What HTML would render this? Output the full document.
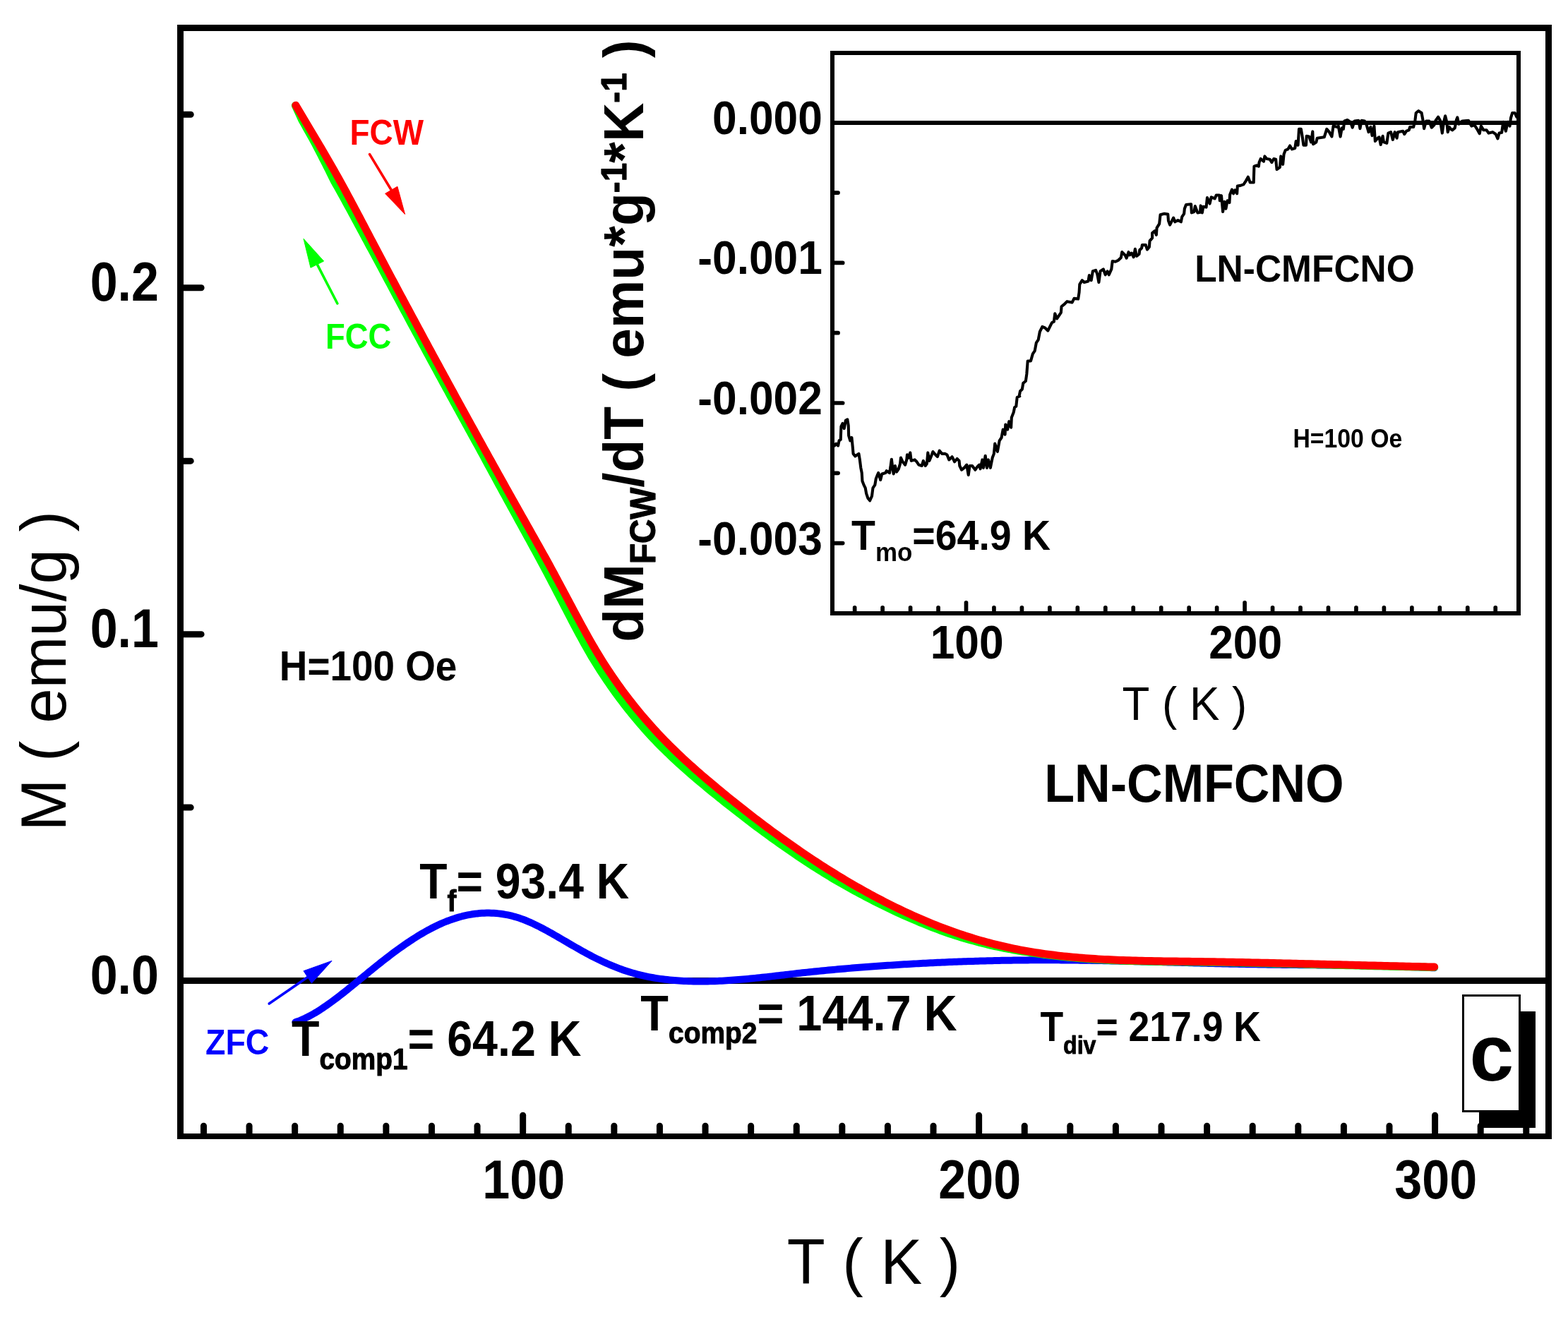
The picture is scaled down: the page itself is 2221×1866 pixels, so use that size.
<!DOCTYPE html>
<html lang="en"><head><meta charset="utf-8"><title>M(T) ZFC/FCC/FCW - LN-CMFCNO</title>
<style>html,body{margin:0;padding:0;background:#fff;overflow:hidden}svg{display:block}text{font-family:"Liberation Sans",Arial,Helvetica,sans-serif;font-kerning:none;white-space:pre}</style></head><body>
<svg width="2221" height="1866" viewBox="0 0 2221 1866" role="img" aria-label="Magnetization M versus temperature T for LN-CMFCNO at H=100 Oe (ZFC, FCC, FCW) with inset dM/dT">
<rect x="0" y="0" width="2221" height="1866" fill="#fff"/>
<g shape-rendering="crispEdges">
<rect x="2095" y="1433" width="80" height="165" fill="#000"/>
<rect x="2072.5" y="1410.5" width="80" height="164" fill="#fff" stroke="#000" stroke-width="3"/>
</g>
<g fill="none" stroke-linecap="round" stroke-linejoin="round">
<rect x="255" y="1385" width="1938" height="9" fill="#000" stroke="none" shape-rendering="crispEdges"/>
<path d="M418.5 1448.25 L421.82 1447.08 L425.13 1445.8 L428.45 1444.4 L431.48 1443.03 L434.49 1441.57 L437.51 1440.03 L440.53 1438.42 L443.5 1436.75 L446.3 1435.12 L449.1 1433.42 L451.9 1431.68 L454.7 1429.88 L457.48 1428.04 L460.18 1426.21 L462.87 1424.34 L465.57 1422.44 L468.27 1420.5 L470.96 1418.52 L473.65 1416.53 L476.34 1414.5 L479.03 1412.45 L481.72 1410.38 L484.4 1408.28 L487.05 1406.2 L489.66 1404.13 L492.26 1402.04 L494.87 1399.94 L497.48 1397.83 L500.08 1395.71 L502.68 1393.59 L505.28 1391.46 L507.88 1389.33 L510.47 1387.19 L513.07 1385.05 L515.68 1382.91 L518.31 1380.75 L520.93 1378.6 L523.56 1376.45 L526.18 1374.31 L528.81 1372.18 L531.44 1370.05 L534.07 1367.94 L536.71 1365.84 L539.34 1363.75 L541.98 1361.67 L544.65 1359.59 L547.34 1357.5 L550.02 1355.44 L552.71 1353.39 L555.4 1351.36 L558.12 1349.33 L560.88 1347.29 L563.64 1345.28 L566.4 1343.29 L569.16 1341.32 L571.93 1339.37 L574.76 1337.42 L577.58 1335.5 L580.4 1333.6 L583.23 1331.74 L586.05 1329.91 L588.9 1328.09 L591.75 1326.32 L594.61 1324.58 L597.46 1322.88 L600.32 1321.2 L603.27 1319.52 L606.23 1317.88 L609.19 1316.29 L612.14 1314.74 L615.13 1313.23 L618.2 1311.72 L621.26 1310.27 L624.33 1308.88 L627.4 1307.54 L630.5 1306.25 L633.63 1305 L636.76 1303.82 L639.89 1302.7 L643.02 1301.64 L646.26 1300.61 L649.5 1299.65 L652.74 1298.75 L655.99 1297.93 L659.28 1297.16 L662.59 1296.47 L665.9 1295.84 L669.22 1295.29 L672.54 1294.82 L675.89 1294.41 L679.24 1294.09 L682.59 1293.84 L685.94 1293.68 L689.3 1293.59 L692.67 1293.58 L696.03 1293.65 L699.39 1293.81 L702.75 1294.05 L706.12 1294.37 L709.47 1294.77 L712.78 1295.25 L716.09 1295.82 L719.39 1296.46 L722.7 1297.19 L725.93 1297.98 L729.14 1298.85 L732.36 1299.8 L735.58 1300.83 L738.73 1301.91 L741.83 1303.06 L744.93 1304.27 L748.03 1305.55 L751.12 1306.89 L754.16 1308.25 L757.18 1309.67 L760.21 1311.13 L763.23 1312.64 L766.24 1314.19 L769.18 1315.73 L772.12 1317.3 L775.06 1318.91 L778 1320.54 L780.92 1322.18 L783.81 1323.82 L786.69 1325.48 L789.58 1327.15 L792.47 1328.82 L795.36 1330.51 L798.29 1332.22 L801.21 1333.93 L804.13 1335.64 L807.05 1337.34 L810 1339.06 L812.98 1340.79 L815.97 1342.5 L818.95 1344.21 L821.93 1345.9 L824.91 1347.57 L827.88 1349.21 L830.85 1350.83 L833.82 1352.43 L836.78 1354.01 L839.8 1355.58 L842.83 1357.12 L845.85 1358.63 L848.88 1360.11 L851.92 1361.56 L855.01 1363.01 L858.11 1364.42 L861.21 1365.8 L864.31 1367.14 L867.42 1368.44 L870.54 1369.71 L873.66 1370.95 L876.78 1372.14 L879.9 1373.29 L883.08 1374.42 L886.26 1375.51 L889.44 1376.55 L892.62 1377.55 L895.82 1378.51 L899.05 1379.43 L902.29 1380.3 L905.52 1381.13 L908.75 1381.92 L912.03 1382.67 L915.31 1383.38 L918.6 1384.05 L921.88 1384.68 L925.19 1385.28 L928.51 1385.83 L931.84 1386.35 L935.16 1386.84 L938.5 1387.29 L941.85 1387.71 L945.2 1388.09 L948.56 1388.44 L951.91 1388.77 L955.27 1389.06 L958.64 1389.33 L962 1389.56 L965.37 1389.77 L968.73 1389.95 L972.1 1390.11 L975.47 1390.24 L978.83 1390.34 L982.2 1390.42 L985.57 1390.48 L988.94 1390.51 L992.31 1390.52 L995.67 1390.5 L999.04 1390.47 L1002.4 1390.41 L1005.77 1390.34 L1009.13 1390.24 L1012.5 1390.13 L1015.86 1390 L1019.23 1389.85 L1022.59 1389.68 L1025.96 1389.5 L1029.32 1389.3 L1032.68 1389.08 L1036.03 1388.85 L1039.39 1388.61 L1042.75 1388.35 L1046.11 1388.09 L1049.47 1387.8 L1052.82 1387.51 L1056.18 1387.21 L1059.53 1386.9 L1062.88 1386.57 L1066.23 1386.24 L1069.58 1385.9 L1072.93 1385.56 L1076.28 1385.2 L1079.63 1384.84 L1082.99 1384.48 L1086.34 1384.11 L1089.69 1383.73 L1093.04 1383.35 L1096.39 1382.97 L1099.74 1382.58 L1103.09 1382.19 L1106.44 1381.8 L1109.79 1381.41 L1113.14 1381.02 L1116.49 1380.63 L1119.85 1380.24 L1123.2 1379.86 L1126.55 1379.47 L1129.9 1379.09 L1133.25 1378.71 L1136.61 1378.33 L1139.96 1377.96 L1143.31 1377.6 L1146.66 1377.24 L1150.01 1376.89 L1153.36 1376.54 L1156.71 1376.19 L1160.06 1375.85 L1163.41 1375.52 L1166.77 1375.19 L1170.12 1374.86 L1173.47 1374.54 L1176.82 1374.23 L1180.17 1373.92 L1183.52 1373.61 L1186.88 1373.31 L1190.23 1373.01 L1193.58 1372.72 L1196.93 1372.43 L1200.29 1372.14 L1203.65 1371.86 L1207.01 1371.58 L1210.37 1371.31 L1213.73 1371.04 L1217.09 1370.77 L1220.45 1370.51 L1223.81 1370.25 L1227.17 1370 L1230.52 1369.74 L1233.88 1369.49 L1237.23 1369.25 L1240.59 1369.01 L1243.95 1368.77 L1247.31 1368.53 L1250.66 1368.3 L1254.02 1368.07 L1257.38 1367.84 L1260.74 1367.62 L1264.09 1367.4 L1267.45 1367.18 L1270.81 1366.97 L1274.17 1366.76 L1277.53 1366.55 L1280.88 1366.35 L1284.24 1366.15 L1287.6 1365.95 L1290.96 1365.76 L1294.31 1365.57 L1297.68 1365.38 L1301.04 1365.2 L1304.41 1365.01 L1307.77 1364.84 L1311.14 1364.66 L1314.5 1364.49 L1317.86 1364.32 L1321.23 1364.16 L1324.59 1364 L1327.96 1363.84 L1331.32 1363.69 L1334.69 1363.54 L1338.05 1363.39 L1341.41 1363.24 L1344.78 1363.1 L1348.14 1362.97 L1351.51 1362.83 L1354.87 1362.7 L1358.24 1362.57 L1361.61 1362.45 L1364.97 1362.33 L1368.34 1362.21 L1371.71 1362.1 L1375.07 1361.99 L1378.44 1361.88 L1381.81 1361.78 L1385.17 1361.68 L1388.54 1361.58 L1391.91 1361.49 L1395.27 1361.4 L1398.64 1361.31 L1402 1361.23 L1405.37 1361.15 L1408.74 1361.07 L1412.11 1361 L1415.47 1360.93 L1418.84 1360.87 L1422.21 1360.81 L1425.58 1360.75 L1428.94 1360.69 L1432.31 1360.64 L1435.68 1360.6 L1439.05 1360.55 L1442.42 1360.51 L1445.78 1360.47 L1449.15 1360.44 L1452.52 1360.41 L1455.89 1360.38 L1459.25 1360.36 L1462.62 1360.34 L1465.99 1360.33 L1469.36 1360.31 L1472.72 1360.31 L1476.09 1360.3 L1479.46 1360.3 L1482.83 1360.3 L1486.19 1360.31 L1489.56 1360.31 L1492.93 1360.33 L1496.29 1360.34 L1499.66 1360.36 L1503.03 1360.38 L1506.4 1360.4 L1509.76 1360.43 L1513.13 1360.46 L1516.5 1360.49 L1519.87 1360.52 L1523.23 1360.56 L1526.6 1360.6 L1529.97 1360.64 L1533.33 1360.69 L1536.7 1360.73 L1540.07 1360.78 L1543.44 1360.83 L1546.8 1360.89 L1550.17 1360.94 L1553.54 1361 L1556.91 1361.06 L1560.28 1361.12 L1563.64 1361.18 L1567.01 1361.25 L1570.38 1361.32 L1573.75 1361.38 L1577.12 1361.46 L1580.48 1361.53 L1583.85 1361.6 L1587.22 1361.68 L1590.59 1361.75 L1593.95 1361.83 L1597.32 1361.91 L1600.69 1361.99 L1604.06 1362.07 L1607.43 1362.15 L1610.79 1362.24 L1614.16 1362.32 L1617.53 1362.41 L1620.89 1362.49 L1624.26 1362.58 L1627.63 1362.67 L1630.99 1362.75 L1634.36 1362.84 L1637.73 1362.93 L1641.1 1363.02 L1644.46 1363.11 L1647.83 1363.2 L1651.2 1363.29 L1654.56 1363.39 L1657.93 1363.48 L1661.3 1363.57 L1664.66 1363.66 L1668.03 1363.75 L1671.4 1363.84 L1674.76 1363.93 L1678.13 1364.03 L1681.5 1364.12 L1684.86 1364.21 L1688.23 1364.3 L1691.6 1364.39 L1694.97 1364.48 L1698.33 1364.57 L1701.7 1364.65 L1705.07 1364.74 L1708.44 1364.83 L1711.8 1364.91 L1715.17 1365 L1718.54 1365.08 L1721.91 1365.17 L1725.27 1365.25 L1728.64 1365.33 L1732.01 1365.41 L1735.38 1365.49 L1738.75 1365.57 L1742.11 1365.64 L1745.48 1365.72 L1748.85 1365.79 L1752.22 1365.86 L1755.58 1365.93 L1758.95 1366 L1762.32 1366.07 L1765.69 1366.13 L1769.06 1366.19 L1772.42 1366.26 L1775.79 1366.32 L1779.16 1366.37 L1782.53 1366.43 L1785.89 1366.48 L1789.26 1366.53 L1792.63 1366.58 L1796 1366.63 L1799.36 1366.68 L1802.73 1366.72 L1806.1 1366.76 L1809.47 1366.81 L1812.83 1366.85 L1816.2 1366.89 L1819.57 1366.92 L1822.94 1366.96 L1826.3 1367 L1829.67 1367.03 L1833.04 1367.07 L1836.41 1367.1 L1839.77 1367.14 L1843.14 1367.17 L1846.51 1367.2 L1849.88 1367.24 L1853.24 1367.27 L1856.61 1367.3 L1859.98 1367.33 L1863.34 1367.37 L1866.71 1367.4 L1870.08 1367.43 L1873.45 1367.47 L1876.81 1367.5 L1880.18 1367.54 L1883.55 1367.57 L1886.92 1367.61 L1890.28 1367.65 L1893.65 1367.69 L1897.02 1367.73 L1900.39 1367.77 L1903.75 1367.81 L1907.12 1367.85 L1910.49 1367.9 L1913.86 1367.95 L1917.22 1367.99 L1920.59 1368.04 L1923.96 1368.1 L1927.32 1368.15 L1930.69 1368.21 L1934.06 1368.26 L1937.43 1368.32 L1940.79 1368.39 L1944.16 1368.45 L1947.53 1368.52 L1950.89 1368.59 L1954.26 1368.66 L1957.63 1368.74 L1960.99 1368.82 L1964.36 1368.9 L1967.73 1368.98 L1971.1 1369.07 L1974.46 1369.16 L1977.83 1369.26 L1981.2 1369.36 L1984.56 1369.46 L1987.93 1369.56 L1991.3 1369.67 L1994.67 1369.78 L1998.03 1369.9 L2001.4 1370.02 L2004.77 1370.15 L2008.13 1370.28 L2011.5 1370.41 L2014.87 1370.55 L2018.23 1370.69 L2021.6 1370.84 L2024.97 1370.99 L2028.33 1371.14 L2031.7 1371.31" stroke="#0000ff" stroke-width="10"/>
<path d="M418.39 149.48 L420.2 153.52 L422.02 157.55 L423.84 161.56 L425.65 165.57 L427.48 169.57 L429.61 173.37 L431.74 177.17 L433.88 180.97 L436.01 184.77 L438.14 188.57 L440.27 192.37 L442.4 196.17 L444.53 199.98 L446.63 203.88 L448.72 207.91 L450.82 211.94 L452.91 215.99 L455 220.05 L457.09 224.12 L459.18 228.22 L461.27 232.33 L463.36 236.45 L465.45 240.6 L467.53 244.77 L469.62 248.97 L471.71 253.18 L473.74 257.3 L475.83 260.97 L477.91 264.67 L479.99 268.38 L482.08 272.12 L484.16 275.88 L486.25 279.65 L488.33 283.44 L490.42 287.24 L492.5 291.06 L494.59 294.89 L496.68 298.73 L498.77 302.58 L500.85 306.45 L502.94 310.32 L505.03 314.2 L507.12 318.08 L509.21 321.97 L511.3 325.86 L513.39 329.76 L515.48 333.66 L517.57 337.55 L519.67 341.45 L521.76 345.35 L523.87 349.27 L526.02 353.27 L528.17 357.26 L530.32 361.25 L532.47 365.24 L534.63 369.22 L536.78 373.19 L538.93 377.16 L541.07 381.14 L543.19 385.12 L545.3 389.1 L547.42 393.08 L549.53 397.05 L551.64 401.02 L553.76 404.98 L555.87 408.95 L557.99 412.91 L560.1 416.86 L562.22 420.82 L564.33 424.77 L566.44 428.71 L568.56 432.66 L570.67 436.6 L572.79 440.55 L574.91 444.49 L577.03 448.44 L579.14 452.38 L581.26 456.33 L583.38 460.27 L585.5 464.2 L587.62 468.14 L589.74 472.07 L591.86 476 L593.98 479.93 L596.1 483.86 L598.22 487.78 L600.34 491.7 L602.46 495.62 L604.58 499.54 L606.7 503.45 L608.82 507.36 L610.94 511.27 L613.06 515.18 L615.18 519.09 L617.3 522.99 L619.42 526.89 L621.55 530.8 L623.67 534.71 L625.8 538.62 L627.93 542.53 L630.06 546.43 L632.18 550.33 L634.31 554.23 L636.44 558.13 L638.57 562.02 L640.7 565.91 L642.82 569.8 L644.95 573.69 L647.08 577.57 L649.21 581.45 L651.34 585.33 L653.46 589.21 L655.59 593.08 L657.72 596.96 L659.85 600.82 L661.98 604.69 L664.1 608.56 L666.23 612.42 L668.36 616.28 L670.49 620.13 L672.62 623.99 L674.74 627.84 L676.87 631.69 L679.01 635.56 L681.15 639.52 L683.28 643.47 L685.42 647.42 L687.55 651.36 L689.69 655.31 L691.83 659.25 L693.96 663.19 L696.1 667.12 L698.24 671.06 L700.37 674.99 L702.51 678.91 L704.64 682.84 L706.78 686.76 L708.92 690.68 L711.05 694.6 L713.19 698.51 L715.33 702.42 L717.46 706.33 L719.6 710.24 L721.74 714.14 L723.87 718.04 L726.01 721.94 L728.15 725.83 L730.28 729.73 L732.42 733.62 L734.55 737.5 L736.69 741.39 L738.85 745.31 L741.01 749.24 L743.17 753.17 L745.32 757.09 L747.48 761.02 L749.63 764.95 L751.79 768.88 L753.94 772.82 L756.1 776.77 L758.25 780.72 L760.4 784.68 L762.55 788.65 L764.71 792.63 L766.86 796.63 L769.01 800.64 L771.16 804.66 L773.31 808.7 L775.45 812.76 L777.5 816.63 L779.52 820.47 L781.54 824.32 L783.56 828.19 L785.58 832.07 L787.6 835.96 L789.62 839.86 L791.64 843.77 L793.67 847.68 L795.69 851.59 L797.71 855.51 L799.74 859.42 L801.77 863.33 L803.79 867.24 L805.89 871.26 L808 875.32 L810.12 879.36 L812.23 883.39 L814.35 887.41 L816.47 891.4 L818.59 895.38 L820.72 899.33 L822.84 903.25 L824.97 907.15 L827.09 911.01 L829.22 914.84 L831.36 918.64 L833.49 922.4 L835.63 926.12 L837.98 930.1 L840.44 934.19 L842.91 938.22 L845.38 942.19 L847.85 946.11 L850.32 949.97 L852.79 953.77 L855.26 957.52 L857.73 961.23 L860.2 964.88 L862.67 968.48 L865.14 972.03 L867.61 975.54 L870.08 979 L872.55 982.42 L875.16 985.98 L878.06 989.89 L880.97 993.75 L883.87 997.56 L886.77 1001.31 L889.68 1005 L892.58 1008.65 L895.49 1012.25 L898.39 1015.8 L901.3 1019.3 L904.21 1022.75 L907.11 1026.16 L910.02 1029.52 L912.92 1032.84 L915.83 1036.11 L918.75 1039.36 L921.91 1042.82 L925.1 1046.21 L928.3 1049.55 L931.5 1052.84 L934.7 1056.08 L937.9 1059.29 L941.09 1062.45 L944.29 1065.57 L947.48 1068.65 L950.69 1071.71 L954.06 1074.88 L957.43 1078.01 L960.8 1081.11 L964.17 1084.17 L967.53 1087.2 L970.9 1090.19 L974.26 1093.16 L977.62 1096.09 L980.98 1098.99 L984.33 1101.87 L987.69 1104.72 L991.04 1107.55 L994.39 1110.36 L997.74 1113.14 L1001.09 1115.91 L1004.43 1118.66 L1007.77 1121.39 L1011.26 1124.23 L1014.8 1127.1 L1018.34 1129.95 L1021.88 1132.78 L1025.42 1135.61 L1028.95 1138.42 L1032.49 1141.21 L1036.03 1143.99 L1039.56 1146.76 L1043.09 1149.53 L1046.61 1152.28 L1050.14 1155.02 L1053.67 1157.74 L1057.19 1160.45 L1060.72 1163.14 L1064.25 1165.82 L1067.81 1168.51 L1071.43 1171.23 L1075.04 1173.93 L1078.66 1176.61 L1082.28 1179.28 L1085.89 1181.93 L1089.51 1184.57 L1093.13 1187.19 L1096.75 1189.79 L1100.36 1192.38 L1103.98 1194.95 L1107.6 1197.5 L1111.22 1200.04 L1114.84 1202.56 L1118.45 1205.06 L1122.07 1207.54 L1125.75 1210.06 L1129.52 1212.61 L1133.29 1215.14 L1137.06 1217.66 L1140.82 1220.16 L1144.59 1222.63 L1148.36 1225.09 L1152.13 1227.53 L1155.9 1229.94 L1159.68 1232.32 L1163.46 1234.68 L1167.24 1237.03 L1171.02 1239.35 L1174.8 1241.65 L1178.58 1243.94 L1182.38 1246.21 L1186.33 1248.52 L1190.28 1250.8 L1194.24 1253.05 L1198.19 1255.29 L1202.14 1257.5 L1206.09 1259.7 L1210.04 1261.87 L1213.98 1264.01 L1217.93 1266.14 L1221.88 1268.24 L1225.83 1270.32 L1229.78 1272.37 L1233.72 1274.4 L1237.78 1276.49 L1241.86 1278.57 L1245.93 1280.62 L1250.01 1282.65 L1254.08 1284.65 L1258.15 1286.63 L1262.23 1288.58 L1266.3 1290.5 L1270.37 1292.4 L1274.45 1294.27 L1278.52 1296.12 L1282.59 1297.94 L1286.66 1299.74 L1290.73 1301.51 L1294.87 1303.29 L1299.04 1305.06 L1303.21 1306.81 L1307.38 1308.53 L1311.55 1310.22 L1315.73 1311.88 L1319.9 1313.52 L1324.07 1315.12 L1328.24 1316.7 L1332.41 1318.24 L1336.58 1319.76 L1340.75 1321.25 L1344.92 1322.71 L1349.09 1324.14 L1353.36 1325.51 L1357.65 1326.85 L1361.95 1328.16 L1366.24 1329.43 L1370.54 1330.67 L1374.83 1331.88 L1379.12 1333.06 L1383.4 1334.22 L1387.68 1335.35 L1391.96 1336.45 L1396.24 1337.51 L1400.52 1338.54 L1404.8 1339.54 L1409.11 1340.51 L1413.53 1341.47 L1417.94 1342.39 L1422.35 1343.28 L1426.76 1344.14 L1431.17 1344.96 L1435.57 1345.75 L1439.97 1346.52 L1444.37 1347.27 L1448.77 1347.99 L1453.17 1348.68 L1457.56 1349.34 L1461.95 1349.97 L1466.35 1350.58 L1470.8 1351.23 L1475.25 1351.85 L1479.7 1352.45 L1484.14 1353.02 L1488.59 1353.57 L1493.04 1354.09 L1497.48 1354.58 L1501.92 1355.07 L1506.36 1355.56 L1510.8 1356.02 L1515.25 1356.46 L1519.68 1356.88 L1524.12 1357.28 L1528.56 1357.66 L1533 1358.02 L1537.45 1358.36 L1541.9 1358.68 L1546.35 1358.99 L1550.8 1359.28 L1555.25 1359.55 L1559.7 1359.8 L1564.16 1360.04 L1568.61 1360.27 L1573.06 1360.48 L1577.51 1360.68 L1581.96 1360.86 L1586.41 1361.04 L1590.86 1361.2 L1595.31 1361.35 L1599.76 1361.49 L1604.21 1361.62 L1608.66 1361.74 L1613.11 1361.85 L1617.56 1361.95 L1622.02 1362.05 L1626.47 1362.14 L1630.92 1362.22 L1635.37 1362.3 L1639.83 1362.37 L1644.28 1362.44 L1648.73 1362.5 L1653.18 1362.56 L1657.64 1362.62 L1662.09 1362.68 L1666.54 1362.73 L1670.99 1362.79 L1675.44 1362.84 L1679.89 1362.89 L1684.35 1362.95 L1688.8 1363.01 L1693.25 1363.06 L1697.7 1363.12 L1702.16 1363.19 L1706.61 1363.25 L1711.06 1363.32 L1715.52 1363.39 L1719.97 1363.46 L1724.42 1363.54 L1728.88 1363.61 L1733.33 1363.69 L1737.78 1363.77 L1742.24 1363.85 L1746.69 1363.94 L1751.14 1364.02 L1755.6 1364.11 L1760.05 1364.19 L1764.51 1364.28 L1768.96 1364.37 L1773.41 1364.46 L1777.87 1364.56 L1782.32 1364.65 L1786.77 1364.75 L1791.23 1364.84 L1795.68 1364.94 L1800.13 1365.04 L1804.59 1365.14 L1809.04 1365.24 L1813.49 1365.34 L1817.95 1365.45 L1822.4 1365.55 L1826.85 1365.66 L1831.31 1365.76 L1835.76 1365.87 L1840.21 1365.97 L1844.67 1366.08 L1849.12 1366.19 L1853.57 1366.3 L1858.03 1366.41 L1862.48 1366.52 L1866.94 1366.63 L1871.39 1366.74 L1875.84 1366.85 L1880.3 1366.96 L1884.75 1367.07 L1889.2 1367.18 L1893.66 1367.3 L1898.11 1367.41 L1902.56 1367.52 L1907.02 1367.63 L1911.47 1367.74 L1915.92 1367.86 L1920.38 1367.97 L1924.83 1368.08 L1929.28 1368.19 L1933.73 1368.3 L1938.19 1368.41 L1942.64 1368.52 L1947.09 1368.63 L1951.54 1368.74 L1956 1368.85 L1960.45 1368.96 L1964.9 1369.07 L1969.35 1369.18 L1973.81 1369.28 L1978.26 1369.39 L1982.71 1369.49 L1987.16 1369.6 L1991.62 1369.7 L1996.07 1369.81 L2000.52 1369.91 L2004.97 1370.01 L2009.43 1370.11 L2013.88 1370.21 L2018.33 1370.3 L2022.78 1370.4 L2027.24 1370.5 L2031.69 1370.59" stroke="#00ff00" stroke-width="11"/>
<path d="M418.9 149.18 L421.13 152.97 L423.36 156.75 L425.6 160.52 L427.83 164.28 L430.06 168.03 L432.29 171.77 L434.52 175.51 L436.76 179.25 L438.99 182.99 L441.22 186.73 L443.45 190.47 L445.68 194.22 L447.92 197.97 L450.18 201.78 L452.49 205.68 L454.79 209.6 L457.1 213.53 L459.41 217.47 L461.72 221.43 L464.03 225.41 L466.34 229.41 L468.65 233.43 L470.95 237.46 L473.26 241.53 L475.57 245.62 L477.88 249.73 L480.12 253.75 L482.18 257.46 L484.23 261.19 L486.29 264.94 L488.34 268.71 L490.4 272.5 L492.45 276.3 L494.51 280.12 L496.56 283.95 L498.62 287.79 L500.68 291.65 L502.73 295.52 L504.79 299.4 L506.84 303.28 L508.9 307.18 L510.95 311.08 L513.01 314.99 L515.06 318.9 L517.12 322.81 L519.17 326.73 L521.23 330.64 L523.28 334.56 L525.34 338.47 L527.39 342.38 L529.47 346.33 L531.58 350.34 L533.69 354.35 L535.81 358.36 L537.92 362.36 L540.03 366.36 L542.15 370.35 L544.26 374.34 L546.37 378.32 L548.49 382.31 L550.6 386.28 L552.71 390.26 L554.83 394.23 L556.94 398.2 L559.05 402.16 L561.17 406.12 L563.28 410.08 L565.39 414.03 L567.51 417.99 L569.62 421.94 L571.73 425.88 L573.85 429.83 L575.96 433.77 L578.07 437.71 L580.19 441.66 L582.31 445.6 L584.43 449.54 L586.55 453.48 L588.67 457.42 L590.79 461.36 L592.9 465.29 L595.02 469.22 L597.14 473.15 L599.26 477.08 L601.38 481.01 L603.5 484.93 L605.62 488.85 L607.74 492.77 L609.86 496.68 L611.97 500.59 L614.09 504.5 L616.21 508.41 L618.33 512.32 L620.45 516.22 L622.57 520.12 L624.69 524.03 L626.82 527.94 L628.94 531.85 L631.07 535.75 L633.2 539.66 L635.32 543.56 L637.45 547.46 L639.58 551.36 L641.71 555.25 L643.83 559.14 L645.96 563.03 L648.09 566.92 L650.21 570.81 L652.34 574.69 L654.47 578.57 L656.6 582.45 L658.72 586.32 L660.85 590.19 L662.98 594.06 L665.1 597.93 L667.23 601.8 L669.36 605.66 L671.49 609.52 L673.61 613.38 L675.74 617.23 L677.87 621.09 L679.99 624.94 L682.12 628.78 L684.26 632.65 L686.44 636.59 L688.62 640.51 L690.79 644.44 L692.97 648.36 L695.14 652.28 L697.32 656.2 L699.49 660.11 L701.67 664.02 L703.85 667.93 L706.02 671.84 L708.2 675.74 L710.37 679.64 L712.55 683.54 L714.73 687.44 L716.9 691.33 L719.08 695.22 L721.25 699.1 L723.43 702.99 L725.61 706.87 L727.78 710.75 L729.96 714.62 L732.13 718.5 L734.31 722.37 L736.49 726.23 L738.66 730.1 L740.84 733.96 L743.01 737.82 L745.22 741.72 L747.42 745.62 L749.62 749.52 L751.82 753.43 L754.02 757.33 L756.23 761.24 L758.43 765.15 L760.63 769.07 L762.83 772.99 L765.04 776.93 L767.24 780.87 L769.44 784.82 L771.64 788.79 L773.84 792.77 L776.05 796.76 L778.25 800.77 L780.45 804.8 L782.65 808.85 L784.75 812.71 L786.81 816.54 L788.88 820.38 L790.94 824.24 L793.01 828.11 L795.08 831.98 L797.14 835.86 L799.21 839.75 L801.27 843.64 L803.34 847.53 L805.4 851.42 L807.47 855.31 L809.54 859.2 L811.6 863.08 L813.73 867.07 L815.88 871.09 L818.04 875.1 L820.19 879.1 L822.34 883.07 L824.49 887.02 L826.64 890.95 L828.8 894.86 L830.95 898.73 L833.1 902.57 L835.25 906.38 L837.4 910.15 L839.56 913.89 L841.71 917.58 L843.86 921.23 L846.2 925.15 L848.65 929.17 L851.09 933.14 L853.54 937.06 L855.98 940.91 L858.43 944.71 L860.87 948.46 L863.32 952.15 L865.76 955.8 L868.21 959.39 L870.65 962.93 L873.1 966.43 L875.54 969.88 L877.99 973.29 L880.43 976.65 L883.02 980.16 L885.89 984.01 L888.76 987.81 L891.64 991.55 L894.51 995.24 L897.38 998.87 L900.26 1002.46 L903.13 1006 L906 1009.49 L908.88 1012.93 L911.75 1016.32 L914.62 1019.67 L917.5 1022.97 L920.37 1026.23 L923.24 1029.45 L926.13 1032.63 L929.25 1036.04 L932.38 1039.4 L935.5 1042.72 L938.62 1045.99 L941.75 1049.21 L944.87 1052.4 L948 1055.55 L951.12 1058.65 L954.25 1061.72 L957.39 1064.77 L960.69 1067.94 L963.98 1071.07 L967.28 1074.16 L970.58 1077.22 L973.88 1080.24 L977.18 1083.24 L980.48 1086.2 L983.78 1089.14 L987.07 1092.05 L990.37 1094.93 L993.67 1097.79 L996.97 1100.63 L1000.27 1103.45 L1003.57 1106.25 L1006.87 1109.04 L1010.17 1111.8 L1013.46 1114.56 L1016.91 1117.42 L1020.4 1120.31 L1023.89 1123.18 L1027.39 1126.04 L1030.88 1128.89 L1034.37 1131.72 L1037.86 1134.53 L1041.36 1137.34 L1044.85 1140.13 L1048.34 1142.9 L1051.83 1145.66 L1055.33 1148.41 L1058.82 1151.14 L1062.31 1153.85 L1065.8 1156.56 L1069.29 1159.24 L1072.82 1161.94 L1076.4 1164.67 L1079.99 1167.37 L1083.57 1170.07 L1087.15 1172.74 L1090.73 1175.4 L1094.31 1178.05 L1097.89 1180.68 L1101.47 1183.29 L1105.05 1185.88 L1108.64 1188.46 L1112.22 1191.02 L1115.8 1193.57 L1119.38 1196.1 L1122.96 1198.61 L1126.54 1201.1 L1130.19 1203.63 L1133.92 1206.19 L1137.65 1208.73 L1141.37 1211.26 L1145.1 1213.76 L1148.83 1216.25 L1152.56 1218.72 L1156.29 1221.17 L1160.02 1223.6 L1163.75 1226.01 L1167.48 1228.4 L1171.21 1230.77 L1174.94 1233.12 L1178.67 1235.46 L1182.39 1237.77 L1186.14 1240.08 L1190.02 1242.44 L1193.9 1244.78 L1197.78 1247.11 L1201.66 1249.41 L1205.54 1251.69 L1209.42 1253.94 L1213.3 1256.18 L1217.18 1258.39 L1221.05 1260.58 L1224.93 1262.74 L1228.81 1264.89 L1232.69 1267.01 L1236.57 1269.11 L1240.57 1271.25 L1244.59 1273.38 L1248.6 1275.48 L1252.62 1277.56 L1256.64 1279.61 L1260.66 1281.63 L1264.67 1283.63 L1268.69 1285.61 L1272.71 1287.56 L1276.72 1289.49 L1280.74 1291.39 L1284.76 1293.26 L1288.78 1295.11 L1292.79 1296.93 L1296.88 1298.76 L1301 1300.57 L1305.13 1302.36 L1309.25 1304.12 L1313.37 1305.86 L1317.5 1307.56 L1321.62 1309.24 L1325.75 1310.89 L1329.87 1312.51 L1333.99 1314.1 L1338.12 1315.66 L1342.24 1317.2 L1346.37 1318.7 L1350.49 1320.18 L1354.7 1321.65 L1358.93 1323.11 L1363.16 1324.53 L1367.38 1325.92 L1371.61 1327.28 L1375.84 1328.61 L1380.07 1329.91 L1384.3 1331.17 L1388.53 1332.41 L1392.76 1333.61 L1396.99 1334.78 L1401.22 1335.92 L1405.45 1337.02 L1409.71 1338.1 L1414.08 1339.18 L1418.45 1340.22 L1422.82 1341.23 L1427.19 1342.2 L1431.55 1343.14 L1435.92 1344.05 L1440.29 1344.93 L1444.66 1345.78 L1449.03 1346.6 L1453.39 1347.39 L1457.76 1348.15 L1462.13 1348.89 L1466.51 1349.6 L1470.95 1350.28 L1475.38 1350.95 L1479.82 1351.58 L1484.26 1352.19 L1488.69 1352.77 L1493.13 1353.33 L1497.57 1353.87 L1502 1354.38 L1506.44 1354.86 L1510.88 1355.33 L1515.31 1355.77 L1519.75 1356.19 L1524.19 1356.59 L1528.62 1356.98 L1533.06 1357.34 L1537.5 1357.68 L1541.95 1358.01 L1546.4 1358.31 L1550.84 1358.6 L1555.29 1358.88 L1559.74 1359.13 L1564.19 1359.38 L1568.64 1359.61 L1573.09 1359.82 L1577.54 1360.02 L1581.99 1360.21 L1586.43 1360.38 L1590.88 1360.54 L1595.33 1360.7 L1599.78 1360.84 L1604.23 1360.97 L1608.68 1361.09 L1613.13 1361.21 L1617.58 1361.31 L1622.03 1361.41 L1626.48 1361.5 L1630.93 1361.59 L1635.39 1361.67 L1639.84 1361.74 L1644.29 1361.81 L1648.74 1361.88 L1653.19 1361.94 L1657.64 1362 L1662.09 1362.06 L1666.55 1362.11 L1671 1362.17 L1675.45 1362.23 L1679.9 1362.28 L1684.35 1362.34 L1688.8 1362.4 L1693.26 1362.46 L1697.71 1362.52 L1702.17 1362.59 L1706.62 1362.66 L1711.07 1362.73 L1715.53 1362.8 L1719.98 1362.87 L1724.43 1362.95 L1728.89 1363.02 L1733.34 1363.1 L1737.8 1363.18 L1742.25 1363.27 L1746.7 1363.35 L1751.16 1363.43 L1755.61 1363.52 L1760.06 1363.61 L1764.52 1363.7 L1768.97 1363.79 L1773.42 1363.89 L1777.88 1363.98 L1782.33 1364.08 L1786.79 1364.17 L1791.24 1364.27 L1795.69 1364.37 L1800.15 1364.47 L1804.6 1364.57 L1809.05 1364.67 L1813.51 1364.78 L1817.96 1364.88 L1822.41 1364.99 L1826.87 1365.09 L1831.32 1365.2 L1835.77 1365.31 L1840.23 1365.42 L1844.68 1365.52 L1849.13 1365.63 L1853.59 1365.74 L1858.04 1365.85 L1862.5 1365.97 L1866.95 1366.08 L1871.4 1366.19 L1875.86 1366.3 L1880.31 1366.41 L1884.76 1366.53 L1889.22 1366.64 L1893.67 1366.75 L1898.12 1366.87 L1902.58 1366.98 L1907.03 1367.09 L1911.48 1367.21 L1915.94 1367.32 L1920.39 1367.43 L1924.84 1367.55 L1929.29 1367.66 L1933.75 1367.77 L1938.2 1367.88 L1942.65 1367.99 L1947.1 1368.11 L1951.56 1368.22 L1956.01 1368.33 L1960.46 1368.44 L1964.91 1368.55 L1969.37 1368.66 L1973.82 1368.76 L1978.27 1368.87 L1982.72 1368.98 L1987.18 1369.08 L1991.63 1369.19 L1996.08 1369.29 L2000.53 1369.4 L2004.99 1369.5 L2009.44 1369.6 L2013.89 1369.7 L2018.34 1369.8 L2022.8 1369.9 L2027.25 1369.99 L2031.7 1370.09" stroke="#ff0000" stroke-width="11"/>
</g>
<line x1="523.6" y1="218.6" x2="554.3" y2="269.3" stroke="#ff0000" stroke-width="3.6" stroke-linecap="round"/>
<polygon points="545.7,274.3 562.9,264.3 573.6,303.6" fill="#ff0000" stroke="#ff0000" stroke-width="1" stroke-linejoin="round"/>
<line x1="477.9" y1="430" x2="449.3" y2="374.65" stroke="#00ff00" stroke-width="3.6" stroke-linecap="round"/>
<polygon points="440,379.3 458.6,370 430,338.3" fill="#00ff00" stroke="#00ff00" stroke-width="1" stroke-linejoin="round"/>
<line x1="381.2" y1="1422.1" x2="435.7" y2="1384.4" stroke="#0000ff" stroke-width="3.6" stroke-linecap="round"/>
<polygon points="430,1375.7 441.4,1393.1 470,1361.4" fill="#0000ff" stroke="#0000ff" stroke-width="1" stroke-linejoin="round"/>
<g stroke="#000" fill="none">
<g fill="#000" stroke="none" shape-rendering="crispEdges">
<rect x="251" y="35" width="9" height="1579"/><rect x="2189" y="35" width="9" height="1579"/>
<rect x="251" y="35" width="1947" height="9"/><rect x="251" y="1606" width="1947" height="8"/>
</g>
<g stroke-width="9" stroke-linecap="round">
<path d="M288.47 1608.8V1595.3"/>
<path d="M353.07 1608.8V1595.3"/>
<path d="M417.66 1608.8V1595.3"/>
<path d="M482.26 1608.8V1595.3"/>
<path d="M546.86 1608.8V1595.3"/>
<path d="M611.46 1608.8V1595.3"/>
<path d="M676.05 1608.8V1595.3"/>
<path d="M740.65 1608.8V1580.3"/>
<path d="M805.25 1608.8V1595.3"/>
<path d="M869.84 1608.8V1595.3"/>
<path d="M934.44 1608.8V1595.3"/>
<path d="M999.04 1608.8V1595.3"/>
<path d="M1063.63 1608.8V1595.3"/>
<path d="M1128.23 1608.8V1595.3"/>
<path d="M1192.83 1608.8V1595.3"/>
<path d="M1257.43 1608.8V1595.3"/>
<path d="M1322.02 1608.8V1595.3"/>
<path d="M1386.62 1608.8V1580.3"/>
<path d="M1451.22 1608.8V1595.3"/>
<path d="M1515.81 1608.8V1595.3"/>
<path d="M1580.41 1608.8V1595.3"/>
<path d="M1645.01 1608.8V1595.3"/>
<path d="M1709.61 1608.8V1595.3"/>
<path d="M1774.2 1608.8V1595.3"/>
<path d="M1838.8 1608.8V1595.3"/>
<path d="M1903.4 1608.8V1595.3"/>
<path d="M1967.99 1608.8V1595.3"/>
<path d="M2032.59 1608.8V1580.3"/>
<path d="M2097.19 1608.8V1595.3"/>
<path d="M2161.78 1608.8V1595.3"/>
<path d="M256.5 1144.12H270.2"/>
<path d="M256.5 898.65H285.1"/>
<path d="M256.5 653.17H270.2"/>
<path d="M256.5 407.7H285.1"/>
<path d="M256.5 162.22H270.2"/>
</g></g>
<g stroke="#000" fill="none">
<g fill="#000" stroke="none" shape-rendering="crispEdges">
<rect x="1176" y="72" width="6" height="800"/><rect x="2148" y="72" width="6" height="800"/>
<rect x="1176" y="72" width="978" height="6"/><rect x="1176" y="866" width="978" height="6"/>
<rect x="1176" y="171" width="978" height="6"/>
</g>
<g stroke-width="5.7" stroke-linecap="round">
<path d="M1210.66 868V860.85"/>
<path d="M1250.12 868V860.85"/>
<path d="M1289.58 868V860.85"/>
<path d="M1329.04 868V860.85"/>
<path d="M1368.5 868V853.85"/>
<path d="M1407.96 868V860.85"/>
<path d="M1447.42 868V860.85"/>
<path d="M1486.88 868V860.85"/>
<path d="M1526.34 868V860.85"/>
<path d="M1565.8 868V860.85"/>
<path d="M1605.26 868V860.85"/>
<path d="M1644.72 868V860.85"/>
<path d="M1684.18 868V860.85"/>
<path d="M1723.64 868V860.85"/>
<path d="M1763.1 868V853.85"/>
<path d="M1802.56 868V860.85"/>
<path d="M1842.02 868V860.85"/>
<path d="M1881.48 868V860.85"/>
<path d="M1920.94 868V860.85"/>
<path d="M1960.4 868V860.85"/>
<path d="M1999.86 868V860.85"/>
<path d="M2039.32 868V860.85"/>
<path d="M2078.78 868V860.85"/>
<path d="M2118.24 868V860.85"/>
<path d="M1180 273.1H1187.05"/>
<path d="M1180 372.4H1193.65"/>
<path d="M1180 471.7H1187.05"/>
<path d="M1180 571H1193.65"/>
<path d="M1180 670.3H1187.05"/>
<path d="M1180 769.6H1193.65"/>
</g>
<path d="M1182.14 631.43 L1184.29 628.57 L1187.14 631.43 L1188.57 624.29 L1190.71 622.86 L1191.43 604.29 L1193.57 600 L1195.71 607.14 L1197.86 595.71 L1200.29 594.29 L1201.71 602.86 L1202.14 617.14 L1204.29 624.29 L1206.43 620 L1207.86 634.29 L1208.57 642.86 L1211.43 646.43 L1214.29 644.29 L1216.43 642.86 L1217.86 651.43 L1219.29 662.86 L1220.71 670 L1221.43 681.43 L1223.57 687.14 L1225.71 691.43 L1227.14 699.29 L1229.29 705.71 L1232.14 709.29 L1235 702.86 L1236.43 691.43 L1239.29 687.14 L1240.71 678.57 L1242.86 672.86 L1244.29 670 L1247.14 680 L1249.29 671.43 L1254.29 670 L1255.71 667.14 L1260 670 L1261.43 661.43 L1262.86 650.71 L1264.29 662.86 L1265.71 671.43 L1267.86 660 L1270 668.57 L1272.86 664.29 L1275 657.14 L1276 648.57 L1278.57 654.29 L1282.14 658.57 L1284.29 651.43 L1285 644.29 L1287.14 648.57 L1289.29 641.43 L1290.71 652.86 L1295.71 651.43 L1298.57 654.29 L1301.43 658.57 L1305.71 660 L1307.86 652.86 L1310.71 660 L1312.86 657.14 L1314.29 641.43 L1316.43 652.86 L1319.29 645.71 L1321.43 640 L1325 644.29 L1327.86 647.14 L1330.71 638.57 L1334.29 642.86 L1338.57 642.86 L1341.43 644.29 L1344.29 651.43 L1348.57 647.14 L1352.14 654.29 L1355.71 650 L1358.57 652.86 L1359.29 660 L1362.14 665.71 L1365.71 662.86 L1369.29 658.57 L1371.71 672.86 L1373.57 660 L1377.14 660 L1381.43 665.71 L1384.29 661.43 L1387.14 658.57 L1388.57 664.29 L1391.43 651.43 L1392.86 662.86 L1395.71 645.71 L1397.86 662.86 L1400 651.43 L1402.86 662.86 L1405.71 648.57 L1407.86 642.86 L1409.29 628.57 L1412.86 640 L1415.71 624.29 L1418.57 620 L1420.71 608.57 L1423.57 615.71 L1424.29 601.43 L1427.14 608.57 L1429.29 597.14 L1432.14 605.71 L1432.86 591.43 L1435.71 584.29 L1437.14 577.14 L1439.29 575.71 L1440.71 562.86 L1444.29 561.43 L1443.57 561.43 L1445 554.29 L1447.86 551.43 L1449.29 542.86 L1452.86 540 L1454.29 530 L1455.71 511.43 L1460 511.43 L1462.86 501.43 L1465.71 497.14 L1467.86 485.71 L1470.71 481.43 L1472.86 470 L1476.43 462.86 L1480 464.29 L1484.29 468.57 L1487.86 461.43 L1490 457.14 L1492.86 455.71 L1494.29 444.29 L1497.14 451.43 L1500 447.14 L1502.86 442.86 L1503.57 434.29 L1507.14 431.43 L1511.43 427.14 L1518.57 428.57 L1521.43 422.86 L1527.14 423.57 L1528.57 414.29 L1529.29 402.86 L1532.86 397.14 L1535.71 400 L1541.43 398.57 L1542.86 390 L1545.71 397.14 L1547.86 384.29 L1552.14 382.86 L1554.29 388.57 L1556.43 400 L1558.57 384.29 L1562.86 381.43 L1565.71 389.29 L1568.57 384.29 L1570.71 389.29 L1574.29 381.43 L1575.71 370 L1580 370.71 L1584.29 368.57 L1587.86 365 L1589.29 357.14 L1593.57 361.43 L1595.71 365.71 L1598.57 357.14 L1600 361.43 L1602.86 358.57 L1605.71 364.29 L1607.86 352.86 L1610 362.86 L1613.57 360 L1614.29 354.29 L1617.14 351.43 L1617.86 347.14 L1622.86 347.14 L1625 353.57 L1627.86 350 L1628.57 341.43 L1632.14 337.14 L1632.14 330 L1635.71 327.14 L1637.86 332.86 L1638.57 322.86 L1642.14 317.14 L1643.57 304.29 L1649.29 302.86 L1654.29 303.57 L1655 312.86 L1657.14 318.57 L1660 312.86 L1662.14 308.57 L1664.29 314.29 L1668.57 312.14 L1672.86 314.29 L1674.29 307.14 L1677.14 302.86 L1677.86 295.71 L1680 290 L1687.14 289.29 L1687.86 301.43 L1691.43 300 L1692.86 292.14 L1696.43 301.43 L1700 300.71 L1700.71 291.43 L1702.86 301.43 L1704.29 292.86 L1708.57 293.57 L1710 280 L1713.57 288.57 L1715.71 279.29 L1720.71 281.43 L1722.86 276.43 L1727.14 276.43 L1727.86 284.29 L1730 277.14 L1732.14 300 L1734.29 285.71 L1736.43 295.71 L1738.57 284.29 L1741.43 287.14 L1742.14 275.71 L1745 268.57 L1747.14 274.29 L1749.29 269.29 L1752.14 274.29 L1752.86 263.57 L1757.14 262.86 L1761.43 261.43 L1764.29 257.14 L1767.86 250.71 L1770.71 258.57 L1775.71 258.57 L1776.43 235.71 L1780 234.29 L1782.86 235.71 L1783.57 230 L1785.71 225 L1790 228.57 L1791.43 221.43 L1794.29 225 L1798.57 225.71 L1801.43 230 L1804.29 225 L1807.14 225.71 L1808.57 240 L1812.86 237.14 L1814.29 221.43 L1817.14 232.86 L1818.57 218.57 L1820.71 212.86 L1824.29 211.43 L1827.14 206.43 L1830 211.43 L1834.29 210 L1835.71 200 L1838.57 205.71 L1840 182.86 L1842.86 182.86 L1845 195.71 L1846.43 205.71 L1850 205.71 L1850.71 192.86 L1854.29 193.57 L1857.14 201.43 L1859.29 186.43 L1860 204.29 L1864.29 201.43 L1865.71 195.71 L1875.71 194.29 L1879.29 182.86 L1882.86 187.14 L1886.43 193.57 L1888.57 178.57 L1894.29 180 L1895.71 178.57 L1898.57 193.57 L1900.71 181.43 L1902.86 182.86 L1904.29 171.43 L1908.57 170 L1912.86 172.86 L1915.71 180.71 L1918.57 171.43 L1924.29 170.71 L1926.43 182.14 L1928.57 170.71 L1932.86 171.43 L1935.71 177.14 L1938.57 187.14 L1941.43 180 L1943.57 192.14 L1946.43 178.57 L1947.86 200 L1951.43 195.71 L1953.57 194.29 L1955.71 205 L1958.57 192.86 L1960 201.43 L1964.29 202.86 L1966.43 188.57 L1970 187.14 L1972.86 197.86 L1975.71 187.14 L1978.57 195.71 L1980 187.14 L1987.14 185.71 L1989.29 190 L1992.14 185.71 L1995.71 184.29 L1997.14 180 L2002.14 180 L2004.29 171.43 L2005.71 160 L2009.29 157.14 L2013.57 160 L2015.71 171.43 L2017.14 182.14 L2020 171.43 L2024.29 171.43 L2027.86 180.71 L2031.43 177.14 L2033.57 170.71 L2037.14 165.71 L2040 170.71 L2042.86 188.57 L2045 172.86 L2047.14 164.29 L2049.29 172.86 L2050.71 187.14 L2052.86 180 L2055 182.86 L2057.14 184.29 L2060.71 181.43 L2062.86 170 L2064.29 166.43 L2066.43 175.71 L2071.43 171.43 L2080 170.71 L2084.29 178.57 L2088.57 177.14 L2092.14 182.86 L2095.71 189.29 L2097.86 178.57 L2101.43 184.29 L2105.71 184.29 L2108.57 188.57 L2114.29 187.14 L2118.57 190 L2121.43 196.43 L2123.57 188.57 L2127.14 187.86 L2129.29 172.86 L2132.86 185.71 L2135.71 172.86 L2138.57 178.57 L2140 167.14 L2142.14 160 L2145.71 160 L2148.29 165.71" stroke-width="4.1" stroke-linejoin="round" stroke-linecap="round"/>
</g>
<g>
<text transform="translate(683.35 1697.9) scale(0.7000 0.7850)" fill="#000"><tspan x="0" y="0" font-size="100" font-weight="bold">100</tspan></text>
<text transform="translate(1329.32 1697.9) scale(0.7000 0.7850)" fill="#000"><tspan x="0" y="0" font-size="100" font-weight="bold">200</tspan></text>
<text transform="translate(1975.29 1697.9) scale(0.7000 0.7850)" fill="#000"><tspan x="0" y="0" font-size="100" font-weight="bold">300</tspan></text>
<text transform="translate(127.69 425.9) scale(0.7000 0.7850)" fill="#000"><tspan x="0" y="0" font-size="100" font-weight="bold">0.2</tspan></text>
<text transform="translate(127.69 916.9) scale(0.7000 0.7850)" fill="#000"><tspan x="0" y="0" font-size="100" font-weight="bold">0.1</tspan></text>
<text transform="translate(127.69 1408) scale(0.7000 0.7850)" fill="#000"><tspan x="0" y="0" font-size="100" font-weight="bold">0.0</tspan></text>
<text transform="translate(1114.71 1818.6) scale(0.8842 0.9070)" fill="#000"><tspan x="0" y="0" font-size="100" font-weight="normal">T ( K )</tspan></text>
<text transform="translate(93 1177.48) rotate(-90) scale(0.8873 0.9160)" fill="#000"><tspan x="0" y="0" font-size="100" font-weight="normal">M ( emu/g )</tspan></text>
<text transform="translate(1317.63 933.4) scale(0.6230 0.6640)" fill="#000"><tspan x="0" y="0" font-size="100" font-weight="bold">100</tspan></text>
<text transform="translate(1712.23 933.4) scale(0.6230 0.6640)" fill="#000"><tspan x="0" y="0" font-size="100" font-weight="bold">200</tspan></text>
<text transform="translate(1009 190.1) scale(0.6230 0.6640)" fill="#000"><tspan x="0" y="0" font-size="100" font-weight="bold">0.000</tspan></text>
<text transform="translate(988.25 387.9) scale(0.6230 0.6640)" fill="#000"><tspan x="0" y="0" font-size="100" font-weight="bold">-0.001</tspan></text>
<text transform="translate(988.25 587.3) scale(0.6230 0.6640)" fill="#000"><tspan x="0" y="0" font-size="100" font-weight="bold">-0.002</tspan></text>
<text transform="translate(988.25 785.6) scale(0.6230 0.6640)" fill="#000"><tspan x="0" y="0" font-size="100" font-weight="bold">-0.003</tspan></text>
<text transform="translate(1589.57 1020) scale(0.6365 0.6690)" fill="#000"><tspan x="0" y="0" font-size="100" font-weight="normal">T ( K )</tspan></text>
<text transform="translate(911 909.85) rotate(-90) scale(0.7671 0.8010)" fill="#000"><tspan x="0" y="0" font-size="100" font-weight="bold">dM</tspan><tspan x="144.38" y="21.3" font-size="62" font-weight="bold" stroke="#000" stroke-width="1.2" stroke-linejoin="round" vector-effect="non-scaling-stroke">FCW</tspan><tspan x="285.55" y="0" font-size="100" font-weight="bold">/dT ( emu*g</tspan><tspan x="829.98" y="-30.2" font-size="62" font-weight="bold" stroke="#000" stroke-width="1.2" stroke-linejoin="round" vector-effect="non-scaling-stroke">-1</tspan><tspan x="885.11" y="0" font-size="100" font-weight="bold">*K</tspan><tspan x="996.24" y="-30.2" font-size="62" font-weight="bold" stroke="#000" stroke-width="1.2" stroke-linejoin="round" vector-effect="non-scaling-stroke">-1</tspan><tspan x="1051.37" y="0" font-size="100" font-weight="bold"> )</tspan></text>
<text transform="translate(495.53 205) scale(0.4590 0.5090)" fill="#ff0000"><tspan x="0" y="0" font-size="100" font-weight="bold">FCW</tspan></text>
<text transform="translate(460.96 493.6) scale(0.4544 0.5030)" fill="#00ff00"><tspan x="0" y="0" font-size="100" font-weight="bold">FCC</tspan></text>
<text transform="translate(291.01 1494.1) scale(0.4654 0.5040)" fill="#0000ff"><tspan x="0" y="0" font-size="100" font-weight="bold">ZFC</tspan></text>
<text transform="translate(395.83 964) scale(0.5485 0.5870)" fill="#000"><tspan x="0" y="0" font-size="100" font-weight="bold">H=100 Oe</tspan></text>
<text transform="translate(594.28 1272.9) scale(0.6429 0.7110)" fill="#000"><tspan x="0" y="0" font-size="100" font-weight="bold">T</tspan><tspan x="61.08" y="26" font-size="60" font-weight="bold" stroke="#000" stroke-width="1" stroke-linejoin="round" vector-effect="non-scaling-stroke">f</tspan><tspan x="81.06" y="0" font-size="100" font-weight="bold">= 93.4 K</tspan></text>
<text transform="translate(413.07 1496) scale(0.6461 0.7110)" fill="#000"><tspan x="0" y="0" font-size="100" font-weight="bold">T</tspan><tspan x="61.08" y="26.7" font-size="60" font-weight="bold" stroke="#000" stroke-width="1" stroke-linejoin="round" vector-effect="non-scaling-stroke">comp1</tspan><tspan x="254.47" y="0" font-size="100" font-weight="bold">= 64.2 K</tspan></text>
<text transform="translate(907.37 1460.2) scale(0.6488 0.7100)" fill="#000"><tspan x="0" y="0" font-size="100" font-weight="bold">T</tspan><tspan x="61.08" y="25" font-size="60" font-weight="bold" stroke="#000" stroke-width="1" stroke-linejoin="round" vector-effect="non-scaling-stroke">comp2</tspan><tspan x="254.47" y="0" font-size="100" font-weight="bold">= 144.7 K</tspan></text>
<text transform="translate(1473.4 1475.2) scale(0.5351 0.5870)" fill="#000"><tspan x="0" y="0" font-size="100" font-weight="bold">T</tspan><tspan x="61.08" y="31" font-size="60" font-weight="bold" stroke="#000" stroke-width="0.8" stroke-linejoin="round" vector-effect="non-scaling-stroke">div</tspan><tspan x="147.77" y="0" font-size="100" font-weight="bold">= 217.9 K</tspan></text>
<text transform="translate(1479.31 1136) scale(0.7009 0.7690)" fill="#000"><tspan x="0" y="0" font-size="100" font-weight="bold">LN-CMFCNO</tspan></text>
<text transform="translate(2081.6 1531) scale(1.1275 1.1300)" fill="#000"><tspan x="0" y="0" font-size="100" font-weight="bold">c</tspan></text>
<text transform="translate(1692.16 398.8) scale(0.5149 0.5440)" fill="#000"><tspan x="0" y="0" font-size="100" font-weight="bold">LN-CMFCNO</tspan></text>
<text transform="translate(1831.44 634) scale(0.3378 0.3780)" fill="#000"><tspan x="0" y="0" font-size="100" font-weight="bold">H=100 Oe</tspan></text>
<text transform="translate(1206.08 778.6) scale(0.5545 0.5990)" fill="#000"><tspan x="0" y="0" font-size="100" font-weight="bold">T</tspan><tspan x="61.08" y="27.5" font-size="63" font-weight="bold">mo</tspan><tspan x="155.58" y="0" font-size="100" font-weight="bold">=64.9 K</tspan></text>
</g>
</svg></body></html>
